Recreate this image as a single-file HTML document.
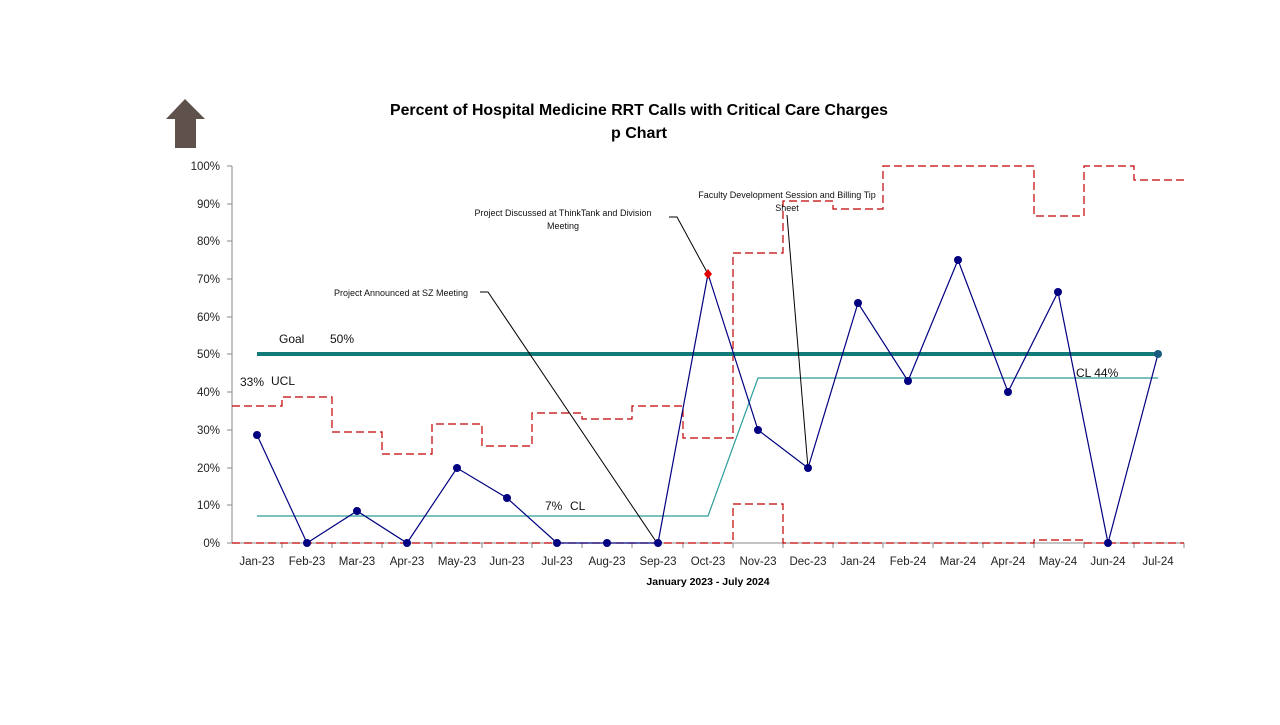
<!DOCTYPE html>
<html><head><meta charset="utf-8"><style>
body{margin:0;background:#fff;}
svg text{font-family:"Liberation Sans",sans-serif;}
</style></head><body>
<svg width="1280" height="720" viewBox="0 0 1280 720" xmlns="http://www.w3.org/2000/svg">
<polygon points="185,99 205,119 196,119 196,148 175,148 175,119 166,119" fill="#5f514b"/>
<text x="639" y="115" text-anchor="middle" font-size="16" font-weight="bold" fill="#000" textLength="498" lengthAdjust="spacingAndGlyphs">Percent of Hospital Medicine RRT Calls with Critical Care Charges</text>
<text x="639" y="138" text-anchor="middle" font-size="16" font-weight="bold" fill="#000">p Chart</text>
<g stroke="#888" stroke-width="1">
<line x1="232" y1="166" x2="232" y2="543"/>
<line x1="232" y1="543" x2="1184" y2="543"/>
</g>
<g stroke="#888">
<line x1="282" y1="543" x2="282" y2="548"/><line x1="332" y1="543" x2="332" y2="548"/><line x1="382" y1="543" x2="382" y2="548"/><line x1="432" y1="543" x2="432" y2="548"/><line x1="482" y1="543" x2="482" y2="548"/><line x1="532" y1="543" x2="532" y2="548"/><line x1="582" y1="543" x2="582" y2="548"/><line x1="632" y1="543" x2="632" y2="548"/><line x1="683" y1="543" x2="683" y2="548"/><line x1="733" y1="543" x2="733" y2="548"/><line x1="783" y1="543" x2="783" y2="548"/><line x1="833" y1="543" x2="833" y2="548"/><line x1="883" y1="543" x2="883" y2="548"/><line x1="933" y1="543" x2="933" y2="548"/><line x1="983" y1="543" x2="983" y2="548"/><line x1="1034" y1="543" x2="1034" y2="548"/><line x1="1084" y1="543" x2="1084" y2="548"/><line x1="1134" y1="543" x2="1134" y2="548"/><line x1="1184" y1="543" x2="1184" y2="548"/>
</g>
<g font-size="11.5" fill="#222" text-anchor="end">
<text x="220" y="547">0%</text><text x="220" y="509">10%</text><text x="220" y="472">20%</text><text x="220" y="434">30%</text><text x="220" y="396">40%</text><text x="220" y="358">50%</text><text x="220" y="321">60%</text><text x="220" y="283">70%</text><text x="220" y="245">80%</text><text x="220" y="208">90%</text><text x="220" y="170">100%</text>
</g>
<g stroke="#888">
<line x1="227" y1="543" x2="232" y2="543"/><line x1="227" y1="505" x2="232" y2="505"/><line x1="227" y1="468" x2="232" y2="468"/><line x1="227" y1="430" x2="232" y2="430"/><line x1="227" y1="392" x2="232" y2="392"/><line x1="227" y1="354" x2="232" y2="354"/><line x1="227" y1="317" x2="232" y2="317"/><line x1="227" y1="279" x2="232" y2="279"/><line x1="227" y1="241" x2="232" y2="241"/><line x1="227" y1="204" x2="232" y2="204"/><line x1="227" y1="166" x2="232" y2="166"/>
</g>
<g font-size="11.5" fill="#222" text-anchor="middle">
<text x="257" y="565">Jan-23</text><text x="307" y="565">Feb-23</text><text x="357" y="565">Mar-23</text><text x="407" y="565">Apr-23</text><text x="457" y="565">May-23</text><text x="507" y="565">Jun-23</text><text x="557" y="565">Jul-23</text><text x="607" y="565">Aug-23</text><text x="658" y="565">Sep-23</text><text x="708" y="565">Oct-23</text><text x="758" y="565">Nov-23</text><text x="808" y="565">Dec-23</text><text x="858" y="565">Jan-24</text><text x="908" y="565">Feb-24</text><text x="958" y="565">Mar-24</text><text x="1008" y="565">Apr-24</text><text x="1058" y="565">May-24</text><text x="1108" y="565">Jun-24</text><text x="1158" y="565">Jul-24</text>
</g>
<text x="708" y="585" text-anchor="middle" font-size="10.5" font-weight="bold">January 2023 - July 2024</text>
<polyline fill="none" stroke="#c00000" stroke-width="1.2" stroke-dasharray="8,4" points="232,406 282,406 282,397 332,397 332,432 382,432 382,454 432,454 432,424 482,424 482,446 532,446 532,413 582,413 582,419 632,419 632,406 683,406 683,438 733,438 733,253 783,253 783,201 833,201 833,209 883,209 883,166 1034,166 1034,216 1084,216 1084,166 1134,166 1134,180 1184,180"/>
<polyline fill="none" stroke="#c00000" stroke-width="1.2" stroke-dasharray="8,4" points="232,543 733,543 733,504 783,504 783,543 1034,543 1034,540 1084,540 1084,543 1184,543"/>
<polyline fill="none" stroke="#2a9d9a" stroke-width="1.2" points="257,516 708,516 758,378 1158,378"/>
<line x1="257" y1="354" x2="1158" y2="354" stroke="#127a78" stroke-width="4"/>
<g stroke="#000" stroke-width="1" fill="none">
<polyline points="480,292 488,292 657,543"/>
<polyline points="669,217 677,217 708,274"/>
<line x1="787" y1="215" x2="808" y2="468"/>
</g>
<g font-size="9" fill="#111" text-anchor="middle">
<text x="401" y="296">Project Announced at SZ Meeting</text>
<text x="563" y="216">Project Discussed at ThinkTank and Division</text>
<text x="563" y="229">Meeting</text>
<text x="787" y="198">Faculty Development Session and Billing Tip</text>
<text x="787" y="211">Sheet</text>
</g>
<polyline fill="none" stroke="#000080" stroke-width="1.2" points="257,435 307,543 357,511 407,543 457,468 507,498 557,543 607,543 658,543 708,274 758,430 808,468 858,303 908,381 958,260 1008,392 1058,292 1108,543 1158,354"/>
<g fill="#000080">
<circle cx="257" cy="435" r="4"/><circle cx="307" cy="543" r="4"/><circle cx="357" cy="511" r="4"/><circle cx="407" cy="543" r="4"/><circle cx="457" cy="468" r="4"/><circle cx="507" cy="498" r="4"/><circle cx="557" cy="543" r="4"/><circle cx="607" cy="543" r="4"/><circle cx="658" cy="543" r="4"/><circle cx="758" cy="430" r="4"/><circle cx="808" cy="468" r="4"/><circle cx="858" cy="303" r="4"/><circle cx="908" cy="381" r="4"/><circle cx="958" cy="260" r="4"/><circle cx="1008" cy="392" r="4"/><circle cx="1058" cy="292" r="4"/><circle cx="1108" cy="543" r="4"/><circle cx="1158" cy="354" r="4" fill="#1a5a80"/>
</g>
<polygon points="708,269 712,274 708,279 704,274" fill="#e00000"/>
<g font-size="12" fill="#111">
<text x="279" y="343">Goal</text><text x="330" y="343">50%</text>
<text x="240" y="386">33%</text><text x="271" y="385">UCL</text>
<text x="545" y="510">7%</text><text x="570" y="510">CL</text>
<text x="1076" y="377">CL 44%</text>
</g>
</svg>
</body></html>
